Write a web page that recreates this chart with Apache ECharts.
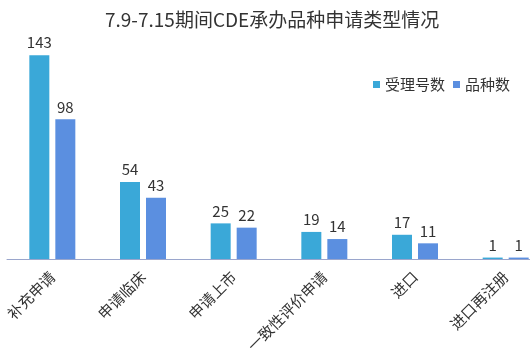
<!DOCTYPE html>
<html>
<head>
<meta charset="utf-8">
<script src="https://cdn.jsdelivr.net/npm/echarts@6/dist/echarts.min.js"></script>
<style>
  html, body { margin: 0; padding: 0; background: #fff; overflow: hidden; }
  /* 图表比窗口宽一点，最右侧的类目被裁掉一部分，与原图一致 */
  #chart { width: 552px; height: 354px; }
</style>
</head>
<body>
<div id="chart"></div>
<script>
// 申请类型
const categories = ['补充申请', '申请临床', '申请上市', '一致性评价申请', '进口', '进口再注册']
// 受理号数
const acceptData = [143, 54, 25, 19, 17, 1]
// 品种数
const varietyData = [98, 43, 22, 14, 11, 1]

const font = '"Noto Sans CJK SC", "Noto Sans", sans-serif'

let chart = echarts.init(document.getElementById('chart'))
let option = {
  backgroundColor: '#fff',
  title: {
    text: '7.9-7.15期间CDE承办品种申请类型情况',
    left: 100,
    top: 5,
    textStyle: { fontFamily: font, fontSize: 19, fontWeight: 'normal', color: '#333' }
  },
  legend: {
    top: 72,
    left: 368,
    itemWidth: 7,
    itemHeight: 7,
    itemGap: 8,
    icon: 'rect',
    textStyle: { fontFamily: font, fontSize: 15, color: '#333' },
    data: ['受理号数', '品种数']
  },
  grid: {
    left: 7,
    top: 31,
    right: 1,
    bottom: 95,
    containLabel: false,
    outerBoundsMode: 'none'
  },
  xAxis: {
    type: 'category',
    data: categories,
    axisLine: { lineStyle: { color: '#9aa6cc', width: 1 } },
    axisTick: { show: false },
    axisLabel: {
      rotate: 45,
      interval: 0,
      margin: 15,
      fontFamily: font,
      fontSize: 15,
      color: '#333'
    }
  },
  yAxis: {
    type: 'value',
    min: 0,
    max: 160,
    show: false,
    splitLine: { show: false }
  },
  series: [
    {
      name: '受理号数',
      type: 'bar',
      data: acceptData,
      barWidth: 20,
      barGap: '30%',
      itemStyle: { color: '#3aa8d8' },
      label: { show: true, position: 'top', distance: 5, fontFamily: font, fontSize: 15, color: '#333' }
    },
    {
      name: '品种数',
      type: 'bar',
      data: varietyData,
      barWidth: 20,
      itemStyle: { color: '#5b8fe0' },
      label: { show: true, position: 'top', distance: 5, fontFamily: font, fontSize: 15, color: '#333' }
    }
  ]
}
chart.setOption(option)
</script>
</body>
</html>
